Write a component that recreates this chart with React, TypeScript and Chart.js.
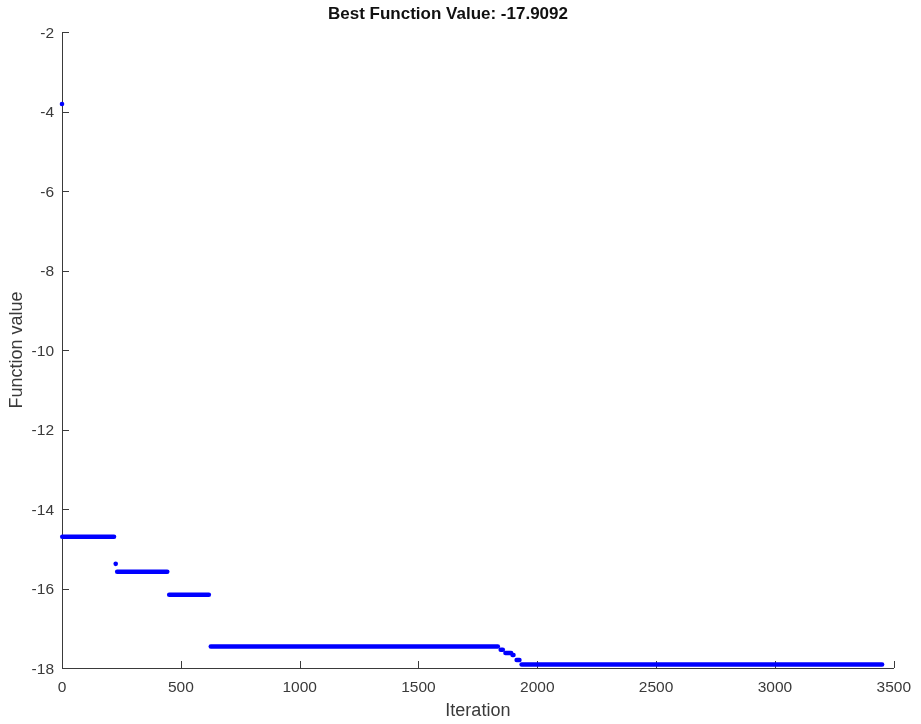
import React, { useEffect, useRef } from "react";
import { Chart, registerables } from "chart.js";

Chart.register(...registerables);

// Plateaus of the best function value (iteration ranges and value)
const plateauStart = [1, 232, 451, 626, 1846, 1866, 1896, 1913, 1934];
const plateauEnd = [219, 443, 618, 1834, 1855, 1890, 1900, 1925, 3451];
const plateauValue = [-14.7, -15.58, -16.16, -17.46, -17.54, -17.62, -17.67, -17.8, -17.9092];

// Isolated samples
const singleIter = [0, 226];
const singleValue = [-3.81, -15.38];

const xTicks = [0, 500, 1000, 1500, 2000, 2500, 3000, 3500];
const yTicks = [-18, -16, -14, -12, -10, -8, -6, -4, -2];

const titleText = "Best Function Value: -17.9092";
const xLabel = "Iteration";
const yLabel = "Function value";

const BLUE = "#0000ff";
const AXIS = "#3a3a3a";
const FONT = "'Liberation Sans', Arial, sans-serif";

const inwardTicks = {
  id: "inwardTicks",
  beforeDatasetsDraw(chart: any) {
    const { ctx, chartArea } = chart;
    const xs = chart.scales.x;
    const ys = chart.scales.y;
    ctx.save();
    ctx.strokeStyle = AXIS;
    ctx.lineWidth = 1;
    ctx.beginPath();
    xTicks.forEach((v) => {
      const px = Math.round(xs.getPixelForValue(v)) + 0.5;
      ctx.moveTo(px, chartArea.bottom);
      ctx.lineTo(px, chartArea.bottom - 7);
    });
    yTicks.forEach((v) => {
      const py = Math.round(ys.getPixelForValue(v)) + 0.5;
      ctx.moveTo(chartArea.left, py);
      ctx.lineTo(chartArea.left + 7, py);
    });
    ctx.stroke();
    ctx.restore();
  },
};

export default function App() {
  const ref = useRef<HTMLCanvasElement>(null);

  useEffect(() => {
    if (!ref.current) return;
    const segDatasets = plateauStart.map((s, i) => ({
      type: "scatter" as const,
      data: [
        { x: s, y: plateauValue[i] },
        { x: plateauEnd[i], y: plateauValue[i] },
      ],
      showLine: true,
      clip: false,
      borderColor: BLUE,
      backgroundColor: BLUE,
      borderWidth: 4.5,
      borderCapStyle: "round" as const,
      pointRadius: 0,
      pointHoverRadius: 0,
    }));
    const dotDataset = {
      type: "scatter" as const,
      data: singleIter.map((x, i) => ({ x, y: singleValue[i] })),
      showLine: false,
      clip: false,
      backgroundColor: BLUE,
      borderColor: BLUE,
      borderWidth: 0,
      pointRadius: 2.3,
    };

    const chart = new Chart(ref.current, {
      type: "scatter",
      data: { datasets: [...segDatasets, dotDataset] as any },
      plugins: [inwardTicks],
      options: {
        animation: false,
        responsive: false,
        maintainAspectRatio: false,
        layout: { padding: { left: 0, right: 25, top: 0, bottom: 0 } },
        plugins: {
          legend: { display: false },
          tooltip: { enabled: false },
          title: {
            display: true,
            text: titleText,
            color: "#111111",
            font: { family: FONT, size: 17, weight: "bold" },
            padding: { top: 4, bottom: 7.6 },
          },
        },
        scales: {
          x: {
            type: "linear",
            min: 0,
            max: 3500,
            afterFit(scale: any) {
              scale.height = 56;
            },
            afterBuildTicks(scale: any) {
              scale.ticks = xTicks.map((v) => ({ value: v }));
            },
            grid: { display: false, drawTicks: false },
            border: { display: true, color: AXIS, width: 1 },
            ticks: {
              color: AXIS,
              font: { family: FONT, size: 15.5 },
              padding: 10,
              maxRotation: 0,
              autoSkip: false,
              callback: (v: any) => String(v),
            },
            title: {
              display: true,
              text: xLabel,
              color: AXIS,
              font: { family: FONT, size: 18 },
              padding: { top: 0, bottom: 2 },
            },
          },
          y: {
            type: "linear",
            min: -18,
            max: -2,
            afterFit(scale: any) {
              scale.width = 62;
            },
            afterBuildTicks(scale: any) {
              scale.ticks = yTicks.map((v) => ({ value: v }));
            },
            grid: { display: false, drawTicks: false },
            border: { display: true, color: AXIS, width: 1 },
            ticks: {
              color: AXIS,
              font: { family: FONT, size: 15.5 },
              padding: 8,
              labelOffset: 1.5,
              autoSkip: false,
              callback: (v: any) => String(v),
            },
            title: {
              display: true,
              text: yLabel,
              color: AXIS,
              font: { family: FONT, size: 18 },
              padding: { top: 6, bottom: 0 },
            },
          },
        },
      },
    });
    return () => chart.destroy();
  }, []);

  return (
    <div
      style={{
        position: "absolute",
        left: 0,
        top: 0,
        width: 921,
        height: 724,
        background: "#ffffff",
      }}
    >
      <canvas ref={ref} width={921} height={724} style={{ width: 921, height: 724 }} />
    </div>
  );
}
